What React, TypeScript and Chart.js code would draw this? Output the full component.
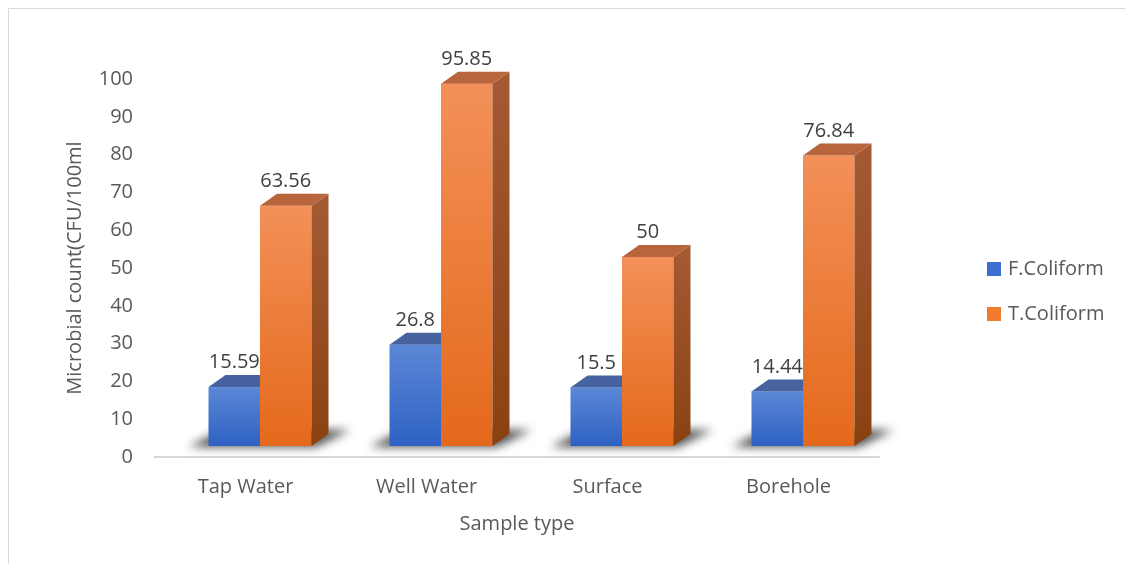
import React, { useEffect, useRef } from "react";
import { Chart, registerables } from "chart.js";

Chart.register(...registerables);

const categories = ["Tap Water", "Well Water", "Surface", "Borehole"];
const fColiform = [15.59, 26.8, 15.5, 14.44];
const tColiform = [63.56, 95.85, 50, 76.84];
const seriesNames = ["F.Coliform", "T.Coliform"];
const yTickMin = 0;
const yTickMax = 100;
const yTickStep = 10;

const FONT = "'Open Sans', 'DejaVu Sans', sans-serif";

// 3D geometry (pixels)
const SHIFT_X = 14.5;
const SHIFT_Y = -11;
const DEPTH_X = 17;
const DEPTH_Y = 12;

const palette = [
  { fTop: "#5b87d6", fBot: "#2e61c3", top: "#46639f", sTop: "#3a5a9c", sBot: "#23458a", legend: "#3d6fcf" },
  { fTop: "#f39058", fBot: "#e4691b", top: "#b8653d", sTop: "#a35a33", sBot: "#8a4112", legend: "#f27a2d" },
];

const threeD = {
  id: "threeD",
  beforeDraw(chart: any) {
    const ctx = chart.ctx;
    ctx.save();
    ctx.strokeStyle = "#d9d9d9";
    ctx.lineWidth = 1;
    ctx.beginPath();
    ctx.moveTo(0.5, chart.height);
    ctx.lineTo(0.5, 0.5);
    ctx.lineTo(chart.width, 0.5);
    ctx.stroke();
    ctx.restore();
  },
  beforeDatasetsDraw(chart: any) {
    const ctx = chart.ctx;
    const metas = chart.data.datasets.map((_: any, i: number) => chart.getDatasetMeta(i));
    const n = chart.data.labels.length;
    const labelsToDraw: any[] = [];
    for (let j = 0; j < n; j++) {
      const els = metas.map((m: any) => m.data[j].getProps(["x", "y", "base", "width"], true));
      // floor shadow
      const first = els[0];
      const last = els[els.length - 1];
      const gx0 = first.x - first.width / 2 + SHIFT_X;
      const gx1 = last.x + last.width / 2 + SHIFT_X;
      const gb = first.base + SHIFT_Y;
      ctx.save();
      ctx.filter = "blur(5px)";
      ctx.fillStyle = "rgba(20,20,20,0.75)";
      ctx.beginPath();
      ctx.moveTo(gx0 - 20, gb + 1);
      ctx.lineTo(gx1 + 4, gb + 1);
      ctx.lineTo(gx1 + DEPTH_X + 22, gb - DEPTH_Y - 4);
      ctx.lineTo(gx0 + DEPTH_X - 4, gb - DEPTH_Y - 4);
      ctx.closePath();
      ctx.fill();
      ctx.restore();

      els.forEach((e: any, i: number) => {
        const c = palette[i];
        const x0 = e.x - e.width / 2 + SHIFT_X;
        const x1 = e.x + e.width / 2 + SHIFT_X;
        const yt = e.y + SHIFT_Y;
        const yb = e.base + SHIFT_Y;
        // front
        const g = ctx.createLinearGradient(0, yt, 0, yb);
        g.addColorStop(0, c.fTop);
        g.addColorStop(1, c.fBot);
        ctx.fillStyle = g;
        ctx.fillRect(x0, yt, x1 - x0, yb - yt);
        // side
        const gs = ctx.createLinearGradient(0, yt, 0, yb);
        gs.addColorStop(0, c.sTop);
        gs.addColorStop(1, c.sBot);
        ctx.fillStyle = gs;
        ctx.beginPath();
        ctx.moveTo(x1, yt);
        ctx.lineTo(x1 + DEPTH_X, yt - DEPTH_Y);
        ctx.lineTo(x1 + DEPTH_X, yb - DEPTH_Y);
        ctx.lineTo(x1, yb);
        ctx.closePath();
        ctx.fill();
        // top
        ctx.fillStyle = c.top;
        ctx.beginPath();
        ctx.moveTo(x0, yt);
        ctx.lineTo(x1, yt);
        ctx.lineTo(x1 + DEPTH_X, yt - DEPTH_Y);
        ctx.lineTo(x0 + DEPTH_X, yt - DEPTH_Y);
        ctx.closePath();
        ctx.fill();
        labelsToDraw.push({
          x: (x0 + x1) / 2,
          y: yt - 24.5,
          text: String(chart.data.datasets[i].data[j]),
        });
      });
    }
    ctx.save();
    ctx.font = `20px ${FONT}`;
    ctx.fillStyle = "#404040";
    ctx.textAlign = "center";
    ctx.textBaseline = "middle";
    labelsToDraw.forEach((l) => ctx.fillText(l.text, l.x, l.y));
    ctx.restore();

    // legend
    ctx.save();
    ctx.font = `20px ${FONT}`;
    ctx.textAlign = "left";
    ctx.textBaseline = "middle";
    seriesNames.forEach((name, i) => {
      const cy = 261 + i * 45;
      ctx.fillStyle = palette[i].legend;
      ctx.fillRect(979, cy - 7, 14, 14);
      ctx.fillStyle = "#595959";
      ctx.fillText(name, 1000, cy);
    });
    ctx.restore();
    return false;
  },
};

export default function App() {
  const ref = useRef<HTMLCanvasElement | null>(null);
  useEffect(() => {
    if (!ref.current) return;
    const chart = new Chart(ref.current, {
      type: "bar",
      data: {
        labels: categories,
        datasets: [
          { label: seriesNames[0], data: fColiform, backgroundColor: palette[0].legend },
          { label: seriesNames[1], data: tColiform, backgroundColor: palette[1].legend },
        ],
      },
      options: {
        animation: false,
        responsive: true,
        maintainAspectRatio: false,
        layout: { padding: { left: 0, right: 246, top: 71, bottom: 0 } },
        datasets: { bar: { categoryPercentage: 0.569, barPercentage: 1 } },
        plugins: { legend: { display: false }, tooltip: { enabled: false } },
        scales: {
          x: {
            grid: { display: false, drawTicks: false },
            border: { display: true, color: "#d9d9d9", width: 2 },
            ticks: { font: { family: FONT, size: 20 }, color: "#595959", padding: 18 },
            title: {
              display: true,
              text: "Sample type",
              font: { family: FONT, size: 20 },
              color: "#595959",
              padding: { top: 0, bottom: 28 },
            },
            afterFit: (s: any) => {
              s.height = 107;
            },
          },
          y: {
            min: yTickMin,
            max: yTickMax,
            grid: { display: false, drawTicks: false },
            border: { display: false },
            ticks: { stepSize: yTickStep, font: { family: FONT, size: 20 }, color: "#595959", padding: 22 },
            title: {
              display: true,
              text: "Microbial count(CFU/100ml",
              font: { family: FONT, size: 20 },
              color: "#595959",
              padding: { top: 55, bottom: 0 },
            },
            afterFit: (s: any) => {
              s.width = 147;
            },
          },
        },
      },
      plugins: [threeD],
    });
    return () => chart.destroy();
  }, []);
  return (
    <div style={{ position: "relative", width: 1117, height: 556 }}>
      <canvas ref={ref} />
    </div>
  );
}
